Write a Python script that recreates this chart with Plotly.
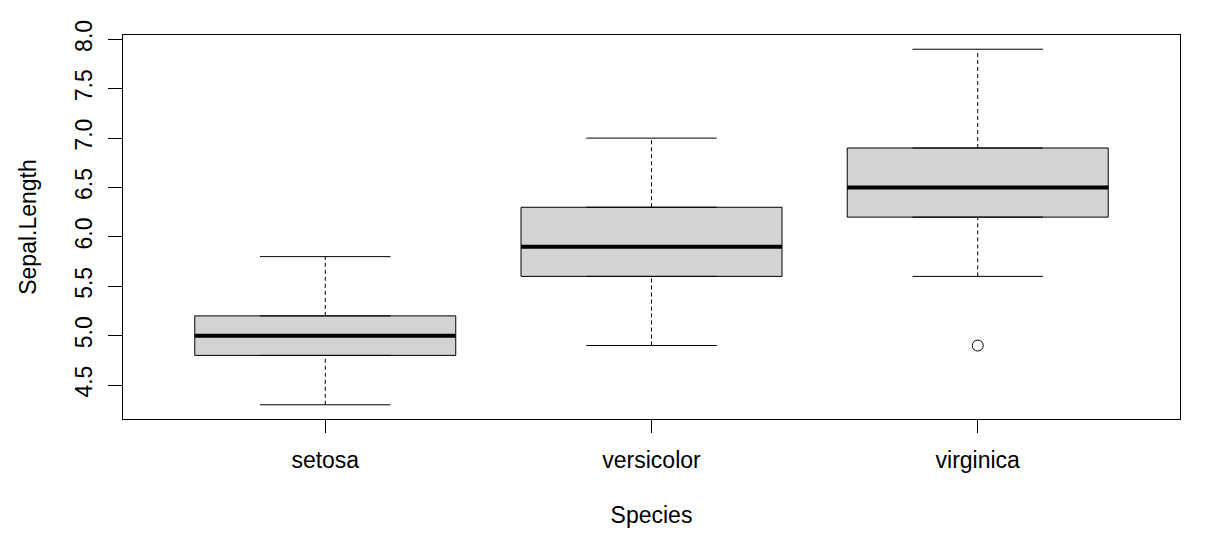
import plotly.graph_objects as go

# boxplot stats (iris Sepal.Length by Species)
species = ["setosa", "versicolor", "virginica"]
lower_whisker = [4.3, 4.9, 5.6]
q1 = [4.8, 5.6, 6.2]
median = [5.0, 5.9, 6.5]
q3 = [5.2, 6.3, 6.9]
upper_whisker = [5.8, 7.0, 7.9]
outlier_species = ["virginica"]
outlier_values = [4.9]
y_ticks = [4.5, 5.0, 5.5, 6.0, 6.5, 7.0, 7.5, 8.0]

FONT = "Liberation Sans, Arial, sans-serif"
BOX_W = 0.8
CAP_W = 0.4

pos = list(range(1, len(species) + 1))

fig = go.Figure()

# boxes (no whiskers here, they are drawn dashed below)
fig.add_trace(go.Box(
    x=pos, q1=q1, median=median, q3=q3,
    lowerfence=q1, upperfence=q3,
    width=BOX_W, fillcolor="#D3D3D3",
    line=dict(color="black", width=1),
    boxpoints=False, hoverinfo="skip", showlegend=False,
))

# dashed whiskers, caps and thick medians
wx, wy, cx, cy, mx, my = [], [], [], [], [], []
for p, lo, a, m, b, hi in zip(pos, lower_whisker, q1, median, q3, upper_whisker):
    wx += [p, p, None, p, p, None]
    wy += [lo, a, None, b, hi, None]
    cx += [p - CAP_W / 2, p + CAP_W / 2, None, p - CAP_W / 2, p + CAP_W / 2, None]
    cy += [lo, lo, None, hi, hi, None]
    mx += [p - BOX_W / 2, p + BOX_W / 2, None]
    my += [m, m, None]

fig.add_trace(go.Scatter(x=wx, y=wy, mode="lines",
                         line=dict(color="black", width=1, dash="4px,3px"),
                         hoverinfo="skip", showlegend=False))
fig.add_trace(go.Scatter(x=cx, y=cy, mode="lines",
                         line=dict(color="black", width=1),
                         hoverinfo="skip", showlegend=False))
fig.add_trace(go.Scatter(x=mx, y=my, mode="lines",
                         line=dict(color="black", width=4),
                         hoverinfo="skip", showlegend=False))

# outliers
fig.add_trace(go.Scatter(
    x=[species.index(s) + 1 for s in outlier_species], y=outlier_values,
    mode="markers",
    marker=dict(symbol="circle-open", size=11, color="black", line=dict(width=1)),
    hoverinfo="skip", showlegend=False,
))

axis_common = dict(
    showgrid=False, zeroline=False,
    showline=True, mirror=True, linecolor="black", linewidth=1,
    ticks="outside", tickcolor="black", tickwidth=1,
    ticklabelstandoff=7,
    tickfont=dict(family=FONT, size=23, color="black"),
)

fig.update_xaxes(
    range=[0.38, 3.62], tickvals=pos, ticktext=species, ticklen=13,
    title=dict(text="Species", font=dict(family=FONT, size=23, color="black"), standoff=35),
    **axis_common,
)
fig.update_yaxes(
    range=[4.156, 8.044], tickvals=y_ticks, tickformat=".1f", tickangle=-90, ticklen=14,
    title=dict(text="Sepal.Length", font=dict(family=FONT, size=23, color="black"), standoff=27),
    **axis_common,
)

# page body has an 8px margin, so the figure is a bit smaller than the window
fig.update_layout(
    width=1190, height=528,
    margin=dict(l=115, r=18, t=25, b=115),
    plot_bgcolor="white", paper_bgcolor="white",
    font=dict(family=FONT, color="black"),
)

fig.write_html("out.html")
